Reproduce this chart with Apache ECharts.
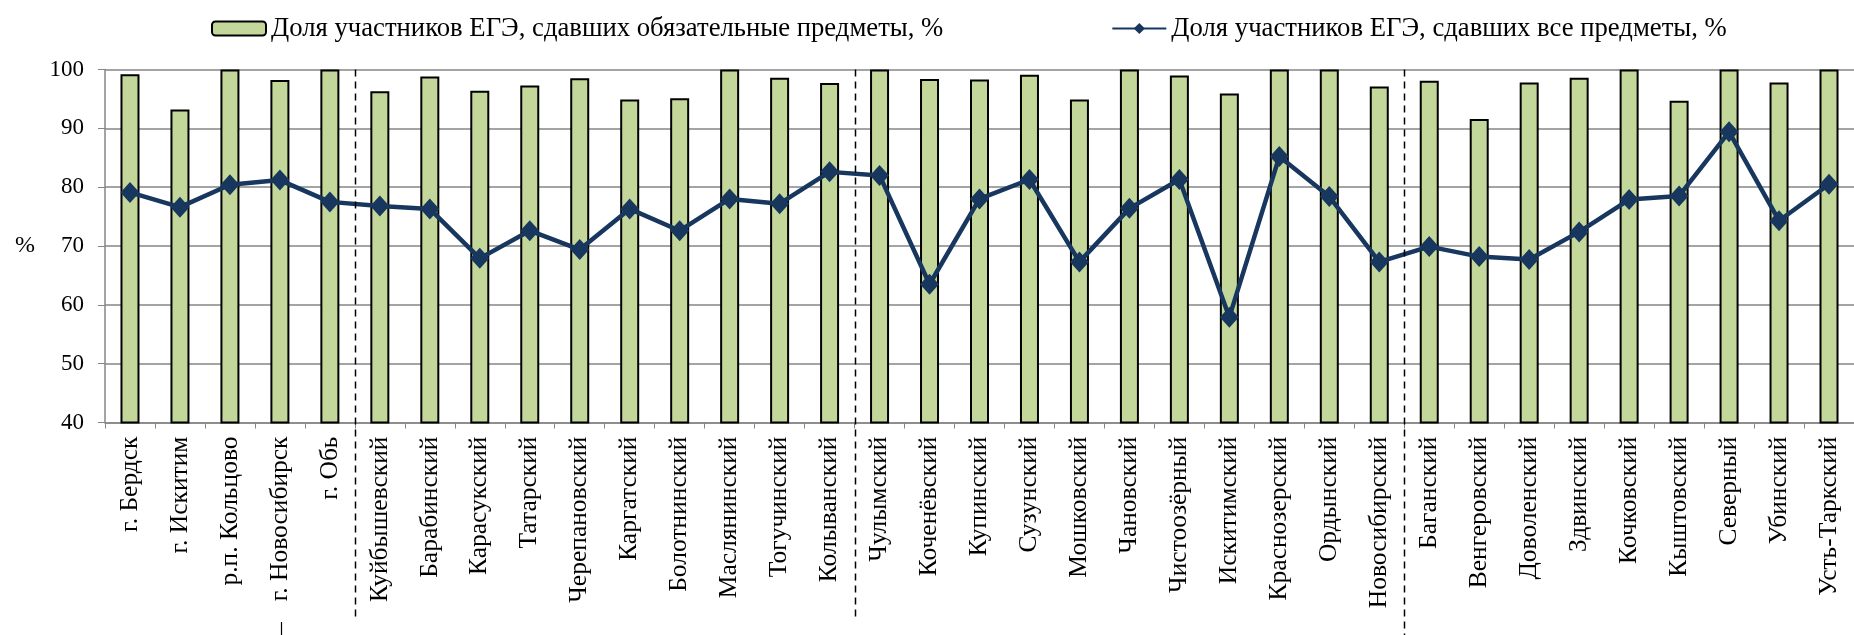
<!DOCTYPE html>
<html>
<head>
<meta charset="utf-8">
<script src="https://cdn.jsdelivr.net/npm/echarts@6/dist/echarts.min.js"></script>
<style>
  html, body { margin: 0; padding: 0; background: #fff; }
  #chart { width: 1854px; height: 635px; }
</style>
</head>
<body>
<div id="chart"></div>
<script>
// районы / города
var districts = [
    'г. Бердск', 'г. Искитим', 'р.п. Кольцово', 'г. Новосибирск', 'г. Обь',
    'Куйбышевский', 'Барабинский', 'Карасукский', 'Татарский', 'Черепановский',
    'Каргатский', 'Болотнинский', 'Маслянинский', 'Тогучинский', 'Колыванский',
    'Чулымский', 'Коченёвский', 'Купинский', 'Сузунский', 'Мошковский',
    'Чановский', 'Чистоозёрный', 'Искитимский', 'Краснозерский', 'Ордынский',
    'Новосибирский', 'Баганский', 'Венгеровский', 'Доволенский', 'Здвинский',
    'Кочковский', 'Кыштовский', 'Северный', 'Убинский', 'Усть-Таркский'
];
// доля сдавших обязательные предметы, %
var passedRequired = [
    99.2, 93.2, 100, 98.2, 100,
    96.3, 98.8, 96.4, 97.3, 98.5,
    94.9, 95.1, 100, 98.6, 97.7,
    100, 98.4, 98.3, 99.1, 94.9,
    100, 99.0, 95.9, 100, 100,
    97.1, 98.1, 91.6, 97.8, 98.6,
    100, 94.7, 100, 97.8, 100
];
// доля сдавших все предметы, %
var passedAll = [
    79.1, 76.6, 80.4, 81.2, 77.5,
    76.8, 76.3, 67.9, 72.6, 69.4,
    76.3, 72.6, 78.0, 77.2, 82.6,
    82.0, 63.5, 78.0, 81.3, 67.3,
    76.4, 81.3, 57.9, 85.2, 78.4,
    67.3, 69.9, 68.2, 67.7, 72.4,
    77.9, 78.5, 89.4, 74.3, 80.5
];
var yTicks = [40, 50, 60, 70, 80, 90, 100];
// после каких категорий идут пунктирные разделители
var groupEnds = [4, 14, 25];

var seriesNames = [
    'Доля участников ЕГЭ, сдавших обязательные предметы, %',
    'Доля участников ЕГЭ, сдавших все предметы, %'
];

var font = 'Liberation Serif';
var myChart = echarts.init(document.getElementById('chart'));

var option = {
    animation: false,
    textStyle: { fontFamily: font, color: '#000' },
    legend: {
        left: 206,
        top: 10,
        itemWidth: 54,
        itemHeight: 14,
        itemGap: 168,
        textStyle: { fontFamily: font, fontSize: 26.7, color: '#000' },
        data: seriesNames
    },
    grid: { left: 105, right: 0, top: 69.5, height: 353, containLabel: false },
    xAxis: {
        type: 'category',
        data: districts,
        boundaryGap: true,
        axisLine: { lineStyle: { color: '#868686', width: 1.5 } },
        axisTick: { show: true, length: 6, lineStyle: { color: '#868686' } },
        axisLabel: {
            rotate: 90,
            interval: 0,
            margin: 14,
            fontFamily: font,
            fontSize: 25.5,
            color: '#000'
        }
    },
    yAxis: {
        type: 'value',
        min: yTicks[0],
        max: yTicks[yTicks.length - 1],
        interval: 10,
        name: '%',
        nameLocation: 'middle',
        nameRotate: 0,
        nameGap: 70,
        nameTextStyle: { fontFamily: font, fontSize: 24, color: '#000', padding: [32, 0, 0, 0] },
        axisLine: { show: true, lineStyle: { color: '#868686', width: 1.5 } },
        axisTick: { show: true, length: 7, lineStyle: { color: '#868686' } },
        axisLabel: { margin: 21, fontFamily: font, fontSize: 23, color: '#000' },
        splitLine: { lineStyle: { color: '#868686', width: 1.5 } }
    },
    series: [
        {
            name: seriesNames[0],
            type: 'bar',
            data: passedRequired,
            barWidth: 19,
            itemStyle: { color: '#c4d79b', borderColor: '#000', borderWidth: 2 },
            z: 2
        },
        {
            name: seriesNames[1],
            type: 'line',
            data: passedAll,
            symbol: 'diamond',
            symbolSize: [19, 21],
            lineStyle: { color: '#17375e', width: 4.5 },
            itemStyle: { color: '#17375e' },
            z: 3
        }
    ]
};
myChart.setOption(option);

// пунктирные разделители групп и короткая черта под осью
var graphics = [];
groupEnds.forEach(function (idx, i) {
    var x1 = myChart.convertToPixel({ xAxisIndex: 0 }, districts[idx]);
    var x2 = myChart.convertToPixel({ xAxisIndex: 0 }, districts[idx + 1]);
    var x = Math.round((x1 + x2) / 2) + 0.5;
    var yTop = myChart.convertToPixel({ yAxisIndex: 0 }, 100);
    graphics.push({
        type: 'line',
        shape: { x1: x, y1: yTop, x2: x, y2: i === groupEnds.length - 1 ? 635 : 621 },
        style: { stroke: '#000', lineWidth: 1.5, lineDash: [7, 5] },
        z: 10
    });
});
var xc = Math.round(myChart.convertToPixel({ xAxisIndex: 0 }, districts[3])) + 1.5;
graphics.push({
    type: 'line',
    shape: { x1: xc, y1: 622, x2: xc, y2: 635 },
    style: { stroke: '#000', lineWidth: 1.2 },
    z: 10
});
myChart.setOption({ graphic: graphics });
</script>
</body>
</html>
